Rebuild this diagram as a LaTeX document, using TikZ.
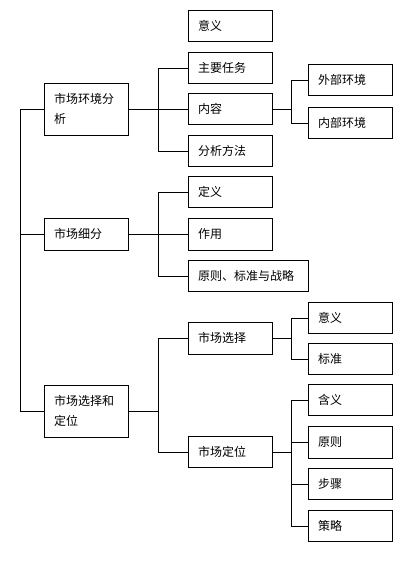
\documentclass[tikz,border=0pt]{standalone}
\usepackage{fontspec}
\newfontfamily\cjk{Noto Sans CJK SC}
\usetikzlibrary{positioning, calc}

\begin{document}
\begin{tikzpicture}[
                x=1pt, y=-1pt,
                font=\cjk\fontsize{12}{20}\selectfont,
                item_box/.style={rectangle, draw=black, line width=0.8pt, inner xsep=10pt, inner ysep=0pt,
                    text width=64pt, minimum height=31pt, align=left},
                wide_box/.style={item_box, text width=100pt},
                tall_box/.style={item_box, minimum height=52pt},
                link/.style={draw=black, line width=0.8pt}
            ]
                \useasboundingbox (0,0) rectangle (416,561);

                % Root level
                \node[tall_box] (env) at (86,109) {市场环境分\\析};
                \node[item_box, minimum height=32pt] (seg) at (86,234) {市场细分};
                \node[tall_box] (selpos) at (86,411) {市场选择和\\定位};
                \coordinate (trunk) at (20,0);
                \draw[link] (env.west) -- (env.west -| trunk) -- (selpos.west -| trunk) -- (selpos.west);
                \draw[link] (seg.west) -- (seg.west -| trunk);

                % Market environment
                \node[item_box] (meaning) at (230,26) {意义};
                \node[item_box] (task) at (230,68) {主要任务};
                \node[item_box] (content) at (230,109) {内容};
                \node[item_box] (method) at (230,151) {分析方法};
                \coordinate (bus1) at (158,0);
                \draw[link] (env.east) -- (content.west);
                \draw[link] (task.west) -- (task.west -| bus1) -- (method.west -| bus1) -- (method.west);

                \node[item_box] (ext) at (350,80) {外部环境};
                \node[item_box] (int) at (350,123) {内部环境};
                \coordinate (bus2) at (291,0);
                \draw[link] (content.east) -- (content.east -| bus2);
                \draw[link] (ext.west) -- (ext.west -| bus2) -- (int.west -| bus2) -- (int.west);

                % Market segmentation
                \node[item_box] (def) at (230,192) {定义};
                \node[item_box, minimum height=32pt] (role) at (230,234) {作用};
                \node[wide_box] (princ) at (248,276) {原则、标准与战略};
                \draw[link] (seg.east) -- (role.west);
                \draw[link] (def.west) -- (def.west -| bus1) -- (princ.west -| bus1) -- (princ.west);

                % Market selection and positioning
                \node[item_box, minimum height=32pt] (select) at (230,338) {市场选择};
                \node[item_box] (position) at (230,452) {市场定位};
                \draw[link] (selpos.east) -- (selpos.east -| bus1);
                \draw[link] (select.west) -- (select.west -| bus1) -- (position.west -| bus1) -- (position.west);

                \node[item_box] (selmean) at (350,318) {意义};
                \node[item_box] (selstd) at (350,359) {标准};
                \draw[link] (select.east) -- (select.east -| bus2);
                \draw[link] (selmean.west) -- (selmean.west -| bus2) -- (selstd.west -| bus2) -- (selstd.west);

                \node[item_box] (posmean) at (350,400) {含义};
                \node[item_box, minimum height=32pt] (posprin) at (350,442) {原则};
                \node[item_box] (posstep) at (350,484) {步骤};
                \node[item_box] (posstrat) at (350,526) {策略};
                \draw[link] (position.east) -- (position.east -| bus2);
                \draw[link] (posmean.west) -- (posmean.west -| bus2) -- (posstrat.west -| bus2) -- (posstrat.west);
                \draw[link] (posprin.west) -- (posprin.west -| bus2);
                \draw[link] (posstep.west) -- (posstep.west -| bus2);

            \end{tikzpicture}
\end{document}
